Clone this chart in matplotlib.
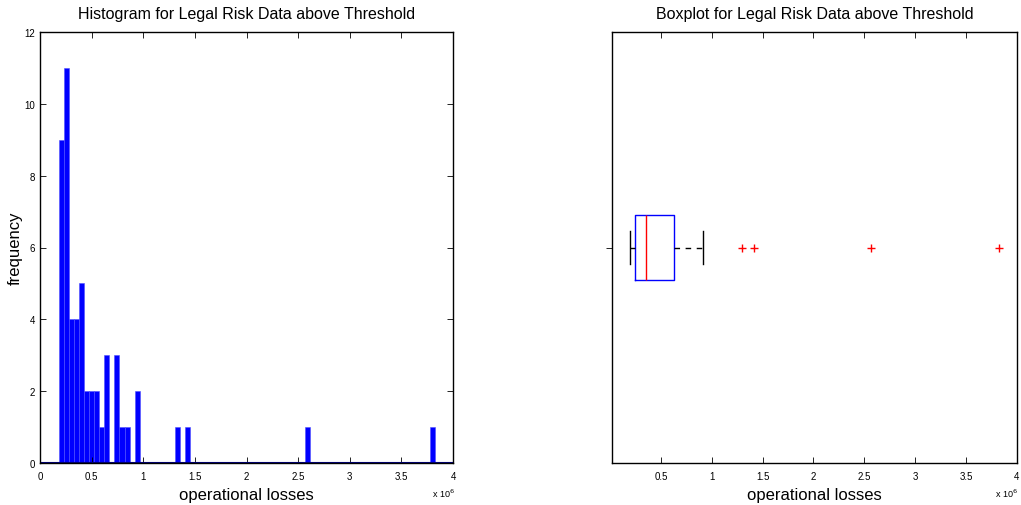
import numpy as np
import matplotlib
matplotlib.use('Agg')
import matplotlib.pyplot as plt

plt.rcParams['font.family'] = ['Liberation Sans Narrow', 'Liberation Sans', 'DejaVu Sans']

# histogram: 75 bins between min and max of the losses
loss_min = 0.187e6
loss_max = 3.83e6
n_bins = 75
# non-empty bins (index -> count)
bin_index = [0, 1, 2, 3, 4, 5, 6, 7, 8, 9, 11, 12, 13, 15, 23, 25, 49, 74]
bin_count = [9, 11, 4, 4, 5, 2, 2, 2, 1, 3, 3, 1, 1, 2, 1, 1, 1, 1]

# boxplot stats
box_whislo = 0.20e6
box_q1 = 0.247e6
box_med = 0.355e6
box_q3 = 0.631e6
box_whishi = 0.917e6
box_fliers = [1.30e6, 1.415e6, 2.57e6, 3.82e6]

edges = np.linspace(loss_min, loss_max, n_bins + 1)
counts = np.zeros(n_bins)
counts[bin_index] = bin_count
bw = edges[1] - edges[0]

fig = plt.figure(figsize=(10.21, 5.06), dpi=100)
W, H = 1021, 506

# ---- histogram
ax1 = fig.add_axes([40 / W, 1 - 464 / H, (453 - 40) / W, (464 - 33) / H])
ax1.bar(edges[:-1], counts, width=bw, align='edge', color='#0000ff',
        edgecolor='#5050ff', linewidth=0.4)
ax1.axhline(0, color='#000080', lw=1.5)
ax1.set_xlim(0, 4e6)
ax1.set_ylim(0, 12)
ax1.set_xticks(np.arange(0, 4.01e6, 0.5e6))
ax1.set_xticklabels(['0', '0.5', '1', '1.5', '2', '2.5', '3', '3.5', '4'])
ax1.set_yticks(range(0, 13, 2))
ax1.tick_params(direction='in', top=True, right=True, labelsize=7, length=4, width=0.6)
ax1.tick_params(axis='x', pad=6)
ax1.set_title('Histogram for Legal Risk Data above Threshold', fontsize=11.5, pad=10)
ax1.set_xlabel('operational losses', fontsize=12, labelpad=4)
ax1.set_ylabel('frequency', fontsize=12, labelpad=1)
ax1.text(0.976, -0.07, r'x 10$^6$', transform=ax1.transAxes, fontsize=6.5,
         ha='center', va='center')

# ---- boxplot
ax2 = fig.add_axes([612 / W, 1 - 464 / H, (1017 - 612) / W, (464 - 33) / H])
stats = [dict(whislo=box_whislo, q1=box_q1, med=box_med, q3=box_q3,
              whishi=box_whishi, fliers=box_fliers)]
ax2.bxp(stats, positions=[1], widths=0.15, vert=False, capwidths=0.075,
        boxprops=dict(color='#0000ff', lw=1),
        medianprops=dict(color='#ff0000', lw=1),
        whiskerprops=dict(color='black', lw=1, ls=(0, (4, 4))),
        capprops=dict(color='black', lw=1),
        flierprops=dict(marker='+', markeredgecolor='#ff0000', markersize=6,
                        markeredgewidth=1, linestyle='none'))
ax2.set_xlim(0.02e6, 4e6)
ax2.set_ylim(0.5, 1.5)
ax2.set_xticks(np.arange(0.5e6, 4.01e6, 0.5e6))
ax2.set_xticklabels(['0.5', '1', '1.5', '2', '2.5', '3', '3.5', '4'])
ax2.set_yticks([1])
ax2.set_yticklabels([''])
ax2.tick_params(axis='x', direction='in', top=True, labelsize=7, length=4, width=0.6, pad=6)
ax2.tick_params(axis='y', direction='out', length=4, width=0.6)
ax2.set_title('Boxplot for Legal Risk Data above Threshold', fontsize=11.5, pad=10)
ax2.set_xlabel('operational losses', fontsize=12, labelpad=4)
ax2.text(0.973, -0.07, r'x 10$^6$', transform=ax2.transAxes, fontsize=6.5,
         ha='center', va='center')

for ax in (ax1, ax2):
    for s in ax.spines.values():
        s.set_linewidth(1)

fig.savefig('out.png', dpi=100)
